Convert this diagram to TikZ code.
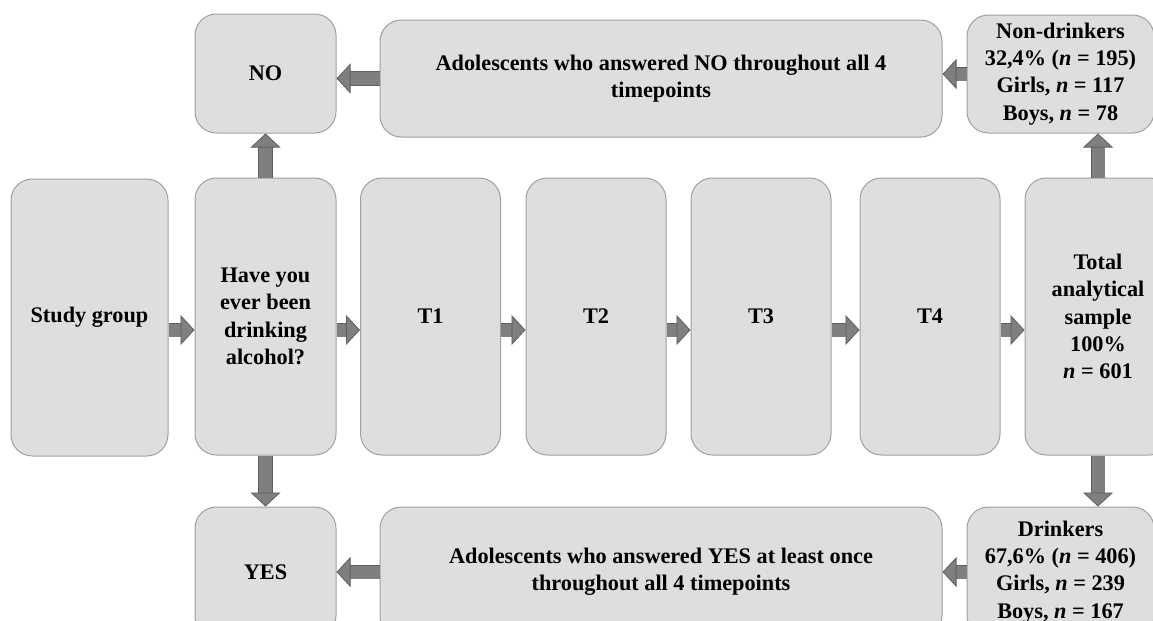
\documentclass[tikz,border=0pt]{standalone}
\usepackage{fontspec}
\setmainfont{Liberation Serif}
\usepackage{tikz}
\usetikzlibrary{arrows.meta, positioning, calc}
\definecolor{caixa}{RGB}{222,222,222}
\definecolor{borda}{RGB}{160,160,160}
\definecolor{seta}{RGB}{127,127,127}
\definecolor{setaborda}{RGB}{95,95,95}
\newcommand{\pxu}{0.75pt}

\begin{document}
\begin{tikzpicture}[x=0.75pt, y=-0.75pt,
    box/.style={draw=borda, fill=caixa, line width=0.75pt, rounded corners=16pt,
        align=center, inner sep=0pt, font=\fontsize{16.7}{20.5}\selectfont\bfseries},
    tall/.style={box, minimum width=140*\pxu, minimum height=277*\pxu},
    fat/.style={draw=seta, line width=9.75pt,
        preaction={draw=setaborda, line width=11pt, arrows=-, shorten >=10pt},
        -{Triangle[length=10.5pt, width=22.5pt, line width=0.6pt, color=setaborda, fill=seta]}}]
    \useasboundingbox (0,0) rectangle (1153,621);
    \clip (0,0) rectangle (1153,621);
    % middle row
    \node[tall, minimum width=157*\pxu] (study) at (89.5,317.5) {Study group};
    \node[tall, minimum width=141*\pxu] (have) at (265.5,316.5) {Have you\\ever been\\drinking\\alcohol?};
    \foreach \t/\x in {1/430.5, 2/596, 3/761, 4/930} {
        \node[tall] (t\t) at (\x,316.5) {T\t};
    }
    \node[tall, minimum width=146*\pxu] (total) at (1098,316.5) {Total\\analytical\\sample\\100\%\\\textit{n} = 601};
    % top row
    \node[box, minimum width=141*\pxu, minimum height=119*\pxu] (no) at (265.5,73.5) {NO};
    \node[box, minimum width=562*\pxu, minimum height=117*\pxu] (adolno) at (661,78.5)
        {Adolescents who answered NO throughout all 4\\timepoints};
    \node[box, minimum width=187*\pxu, minimum height=118*\pxu] (nondr) at (1060.5,74)
        {Non-drinkers\\32,4\% (\textit{n} = 195)\\Girls, \textit{n} = 117\\Boys, \textit{n} = 78};
    % bottom row
    \node[box, minimum width=141*\pxu, minimum height=130*\pxu] (yes) at (265.5,572) {YES};
    \node[box, minimum width=562*\pxu, minimum height=130*\pxu] (adolyes) at (661,572)
        {Adolescents who answered YES at least once\\throughout all 4 timepoints};
    \node[box, minimum width=187*\pxu, minimum height=130*\pxu] (drink) at (1060.5,572)
        {Drinkers\\67,6\% (\textit{n} = 406)\\Girls, \textit{n} = 239\\Boys, \textit{n} = 167};
    % arrows
    \coordinate (lvl) at (0,330);
    \foreach \a/\b in {study/have, have/t1, t1/t2, t2/t3, t3/t4, t4/total} {
        \draw[fat] (\a.east |- lvl) -- (\b.west |- lvl);
    }
    \draw[fat] (have.north) -- (no.south);
    \draw[fat] (have.south) -- (yes.north);
    \draw[fat] (total.north) -- (total.north |- nondr.south);
    \draw[fat] (total.south) -- (total.south |- drink.north);
    \draw[fat] (nondr.west) -- (nondr.west -| adolno.east);
    \draw[fat] (adolno.west) -- (adolno.west -| no.east);
    \draw[fat] (drink.west) -- (drink.west -| adolyes.east);
    \draw[fat] (adolyes.west) -- (adolyes.west -| yes.east);
\end{tikzpicture}
\end{document}
